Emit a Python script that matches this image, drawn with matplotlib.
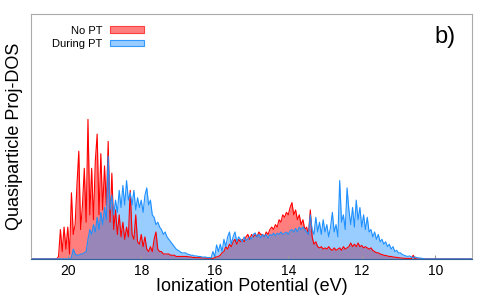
import numpy as np
import matplotlib
matplotlib.use("Agg")
import matplotlib.pyplot as plt
from matplotlib.patches import Patch

plt.rcParams['font.family'] = ['Liberation Sans', 'DejaVu Sans']

# energy grid of the spectra (eV), 20.35 down to 10.30 in 0.05 steps
energy = np.round(np.arange(20.35, 10.29, -0.05), 2)

# Proj-DOS, no proton transfer (arb. units)
no_pt = [
    0, 0, 1, 12, 3, 13, 4, 13, 2, 27,
    10, 14, 30, 44, 12, 22, 37, 15, 57, 18,
    37, 16, 40, 51, 18, 43, 20, 38, 22, 48,
    15, 35, 12, 20, 10, 18, 9, 15, 8, 13,
    9, 28, 10, 8, 18, 7, 6, 10, 5, 9,
    4, 3, 5, 3, 8, 11, 4, 3, 3, 2,
    2, 2, 2, 1.5, 1.5, 1.5, 1, 1, 1, 1,
    1, 1, 1, 0.8, 0.8, 0.6, 0.6, 0.5, 0.5, 0.5,
    0.4, 0.4, 0.3, 0.3, 0.3, 0.2, 0.2, 0.5, 0.8, 1,
    1.5, 2.5, 3, 5, 4, 6, 5, 7, 8, 6,
    8, 7, 8, 7, 9, 10, 8, 10, 9, 10,
    9, 11, 10, 10, 9, 11, 10, 12, 13, 12,
    14, 13, 16, 15, 18, 17, 19, 18, 21, 23,
    18, 20, 16, 18, 14, 16, 12, 13, 10, 20,
    9, 6, 7, 5, 4.5, 5, 4, 4.5, 4, 5,
    4, 3.5, 4.5, 3.5, 4, 4.5, 3.5, 5, 4, 4.5,
    5, 6.5, 5, 6, 5, 6.5, 5, 5.5, 4.5, 5,
    4.5, 4, 4.5, 3.5, 3, 2.5, 2.5, 2, 1.8, 1.5,
    1.4, 1.2, 1, 1, 0.8, 0.7, 0.6, 0.5, 0.4, 0.3,
    0.3, 0.2, 0.2, 0.2, 0.1, 1.5, 0.1, 0, 0, 0,
    0, 0,
]

# Proj-DOS, during proton transfer (arb. units)
during_pt = [
    0, 0, 0, 0, 0, 0, 0, 0, 0, 0.5,
    4, 2, 1.5, 1.5, 2, 2, 2.5, 3, 8, 12,
    10, 14, 11, 17, 12, 19, 14, 21, 16, 42,
    20, 26, 18, 24, 19, 28, 21, 30, 22, 32,
    24, 27, 22, 28, 20, 25, 21, 24, 19, 26,
    29, 22, 24, 18, 17, 14, 15, 13, 12, 10,
    11, 9, 8, 7, 6, 5, 4, 3.5, 3, 2.5,
    2.4, 2.5, 2, 1.8, 1.5, 1.5, 1.2, 1.2, 1, 1,
    0.8, 0.7, 0.8, 0.5, 0.6, 0.4, 3, 1, 5.7, 3,
    6, 3, 8, 5, 9, 11, 6, 9, 11, 7,
    9, 8, 7, 9, 7.5, 8, 9, 8, 10, 10.6,
    9, 10, 8.5, 10, 9, 10, 8.5, 10, 9.5, 10.5,
    9.5, 10.5, 10, 11, 10, 10.5, 11, 10, 11.5, 12,
    11, 12.5, 11, 13, 12, 13, 12, 11, 10, 18,
    12, 10, 17, 11, 15, 10, 16, 11, 14, 9,
    13, 19, 11, 14, 9, 32, 15, 18, 12, 29,
    20, 14, 21, 13, 24, 16, 21, 13, 18, 12,
    17, 11, 12, 9, 11, 8, 10, 7, 8, 6,
    7, 5, 6, 4, 5, 3, 3.5, 2.4, 2.5, 1.8,
    1.5, 1.2, 1, 1.2, 0.8, 0.6, 0.8, 0.5, 0.4, 0.3,
    0.2, 0,
]

# pad with zeros out to the plot edges
x = np.concatenate([[21.0], energy, [9.0]])
red = np.concatenate([[0], no_pt, [0]])
blue = np.concatenate([[0], during_pt, [0]])

fig = plt.figure(figsize=(5, 3), dpi=100)
ax = fig.add_axes([0.062, 0.137, 0.882, 0.816])

ax.fill_between(x, 0, red, color='red', alpha=0.5, lw=0)
ax.plot(x, red, color='red', lw=0.8)
ax.fill_between(x, 0, blue, color='dodgerblue', alpha=0.45, lw=0)
ax.plot(x, blue, color='dodgerblue', lw=0.8)

ax.set_xlim(21.0, 9.0)
ax.set_ylim(0, 100)
ax.set_xticks([20, 18, 16, 14, 12, 10])
ax.set_yticks([])
ax.tick_params(axis='x', direction='in', length=3, color='#999999',
               labelsize=10, pad=4)
for s in ['left', 'top', 'right']:
    ax.spines[s].set_color('#aaaaaa')
ax.spines['bottom'].set_color('#2f6399')

ax.set_xlabel('Ionization Potential (eV)', fontsize=13, labelpad=0)
ax.set_ylabel('Quasiparticle Proj-DOS', fontsize=13, labelpad=6)

ax.text(0.963, 0.95, 'b)', transform=ax.transAxes, ha='right', va='top',
        fontsize=17)

handles = [Patch(facecolor='#ff7f7f', edgecolor='#ff4040', lw=0.8),
           Patch(facecolor='#99ccff', edgecolor='#3399ff', lw=0.8)]
ax.legend(handles, ['No PT', 'During PT'], loc='upper left',
          bbox_to_anchor=(0.03, 0.985), markerfirst=False, frameon=False,
          fontsize=8, handlelength=3.1, handleheight=0.55, labelspacing=0.3,
          handletextpad=0.7, borderaxespad=0.3)

fig.savefig('out.png', dpi=100)
